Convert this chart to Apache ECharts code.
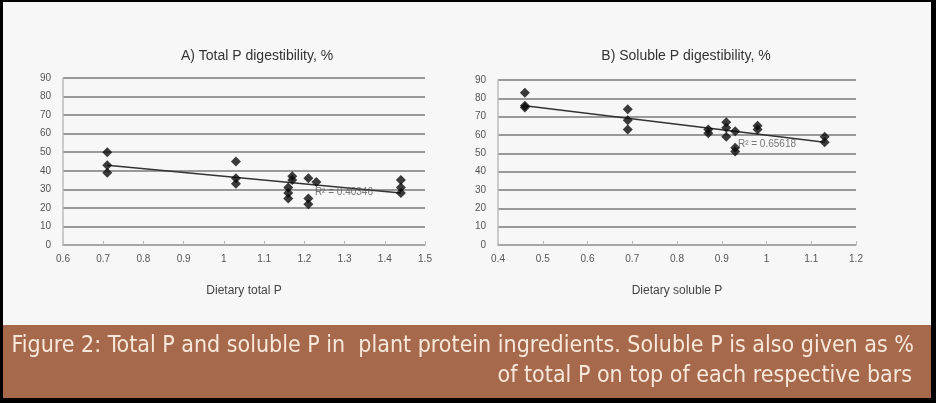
<!DOCTYPE html>
<html>
<head>
<meta charset="utf-8">
<script src="https://cdn.jsdelivr.net/npm/echarts@6/dist/echarts.min.js"></script>
<style>
html,body{margin:0;padding:0;background:#000;}
#c{width:936px;height:403px;}
</style>
</head>
<body>
<div id="c"></div>
<script>
// Panel A: Total P digestibility vs dietary total P
var pointsA = [
  [0.71, 50], [0.71, 43], [0.71, 39],
  [1.03, 45], [1.03, 36], [1.03, 33],
  [1.16, 31], [1.16, 28], [1.16, 25],
  [1.17, 37], [1.17, 35],
  [1.21, 36], [1.21, 25], [1.21, 22],
  [1.23, 34],
  [1.44, 35], [1.44, 31], [1.44, 28]
];
var trendA = [[0.71, 43], [1.44, 28]];
var r2A = { pos: [1.225, 28.5], text: 'R² = 0.40346' };

// Panel B: Soluble P digestibility vs dietary soluble P
var pointsB = [
  [0.46, 83], [0.46, 76], [0.46, 75],
  [0.69, 74], [0.69, 68], [0.69, 63],
  [0.87, 63], [0.87, 61],
  [0.91, 67], [0.91, 64], [0.91, 59],
  [0.93, 62], [0.93, 53], [0.93, 51],
  [0.98, 65], [0.98, 63],
  [1.13, 59], [1.13, 56]
];
var trendB = [[0.46, 76], [1.13, 56]];
var r2B = { pos: [0.935, 55], text: 'R² = 0.65618' };

var titles = ['A) Total P digestibility, %', 'B) Soluble P digestibility, %'];
var xNames = ['Dietary total P', 'Dietary soluble P'];
var xRanges = [[0.6, 1.5], [0.4, 1.2]];
var yRange = [0, 90];
var caption1 = 'Figure 2: Total P and soluble P in  plant protein ingredients. Soluble P is also given as %';
var caption2 = 'of total P on top of each respective bars';

var chart = echarts.init(document.getElementById('c'));

function xAxis(i) {
  return {
    type: 'value', gridIndex: i, min: xRanges[i][0], max: xRanges[i][1], interval: 0.1,
    name: xNames[i], nameLocation: 'middle', nameGap: 40,
    nameTextStyle: { fontFamily: 'Liberation Sans', fontSize: 12, color: '#444' },
    axisLine: { show: true, lineStyle: { color: '#aaa', width: 1.5 } },
    axisTick: { show: true, inside: true, length: 4, lineStyle: { color: '#bbb' } },
    axisLabel: { fontFamily: 'Liberation Sans', fontSize: 10, color: '#555', margin: 9,
      formatter: function (v) { return String(Math.round(v * 10) / 10); } },
    splitLine: { show: false }
  };
}
function yAxis(i) {
  return {
    type: 'value', gridIndex: i, min: yRange[0], max: yRange[1], interval: 10,
    axisLine: { show: true, lineStyle: { color: '#bbb', width: 1.5 } },
    axisTick: { show: false },
    axisLabel: { fontFamily: 'Liberation Sans', fontSize: 10, color: '#555', margin: 12 },
    splitLine: { show: true, lineStyle: { color: '#999', width: 2 } }
  };
}
function r2Series(i, r) {
  return {
    type: 'scatter', xAxisIndex: i, yAxisIndex: i, data: [r.pos], symbolSize: 1,
    itemStyle: { color: 'rgba(0,0,0,0)' }, silent: true, z: 5,
    label: { show: true, position: 'right', distance: 0, formatter: r.text,
      fontFamily: 'Liberation Sans', fontSize: 10, color: '#555' }
  };
}

chart.setOption({
  backgroundColor: '#000',
  animation: false,
  graphic: [
    { type: 'rect', shape: { x: 3, y: 2, width: 928, height: 324 }, style: { fill: '#f7f7f7' }, z: -10 },
    { type: 'rect', shape: { x: 3, y: 325, width: 928, height: 73 }, style: { fill: '#a6694b' }, z: -10 },
    { type: 'text', right: 22, top: 335, style: { text: caption1, fill: '#f8e8dc',
      font: '23px "Liberation Sans Narrow", "DejaVu Sans Condensed", sans-serif', textAlign: 'right' } },
    { type: 'text', right: 24, top: 365, style: { text: caption2, fill: '#f8e8dc',
      font: '23px "Liberation Sans Narrow", "DejaVu Sans Condensed", sans-serif', textAlign: 'right' } }
  ],
  title: [
    { text: titles[0], left: 252, top: 44, textAlign: 'center',
      textStyle: { fontFamily: 'Liberation Sans', fontSize: 14, fontWeight: 'normal', color: '#333' } },
    { text: titles[1], left: 681, top: 44, textAlign: 'center',
      textStyle: { fontFamily: 'Liberation Sans', fontSize: 14, fontWeight: 'normal', color: '#333' } }
  ],
  grid: [
    { left: 63, right: 511, top: 78, bottom: 158 },
    { left: 498, right: 80, top: 80, bottom: 158 }
  ],
  xAxis: [xAxis(0), xAxis(1)],
  yAxis: [yAxis(0), yAxis(1)],
  series: [
    { type: 'line', xAxisIndex: 0, yAxisIndex: 0, data: trendA, showSymbol: false,
      lineStyle: { color: '#333', width: 1.5 }, z: 3 },
    { type: 'scatter', xAxisIndex: 0, yAxisIndex: 0, data: pointsA, symbol: 'diamond', symbolSize: 10,
      itemStyle: { color: '#0a0a0a' }, z: 4 },
    r2Series(0, r2A),
    { type: 'line', xAxisIndex: 1, yAxisIndex: 1, data: trendB, showSymbol: false,
      lineStyle: { color: '#333', width: 1.5 }, z: 3 },
    { type: 'scatter', xAxisIndex: 1, yAxisIndex: 1, data: pointsB, symbol: 'diamond', symbolSize: 10,
      itemStyle: { color: '#0a0a0a' }, z: 4 },
    r2Series(1, r2B)
  ]
});
</script>
</body>
</html>
